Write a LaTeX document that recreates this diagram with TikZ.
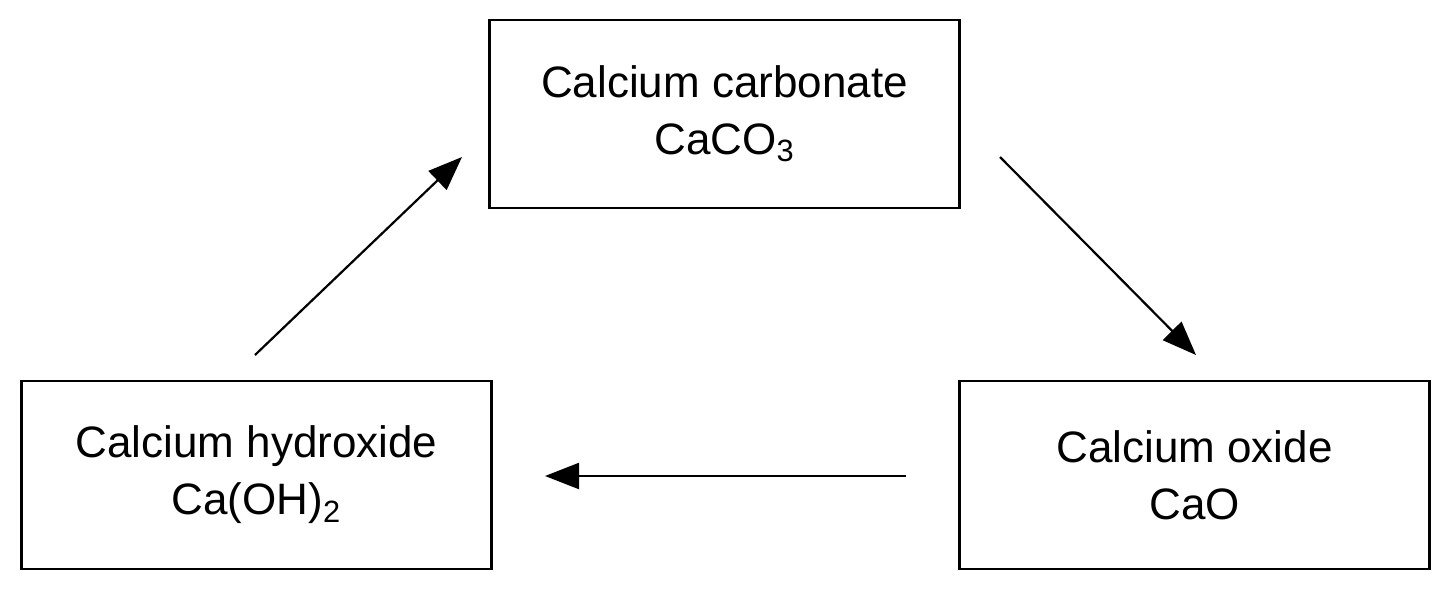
\documentclass[tikz,border=0pt]{standalone}
\usepackage{fontspec}
\setmainfont{Liberation Sans}
\usetikzlibrary{arrows.meta}
\begin{document}
\begin{tikzpicture}[x=0.5pt,y=-0.5pt,
  box/.style={draw,line width=1.2pt,minimum width=235pt,minimum height=94pt,align=center,inner sep=0pt,font=\fontsize{22}{28.5}\selectfont},
  arr/.style={line width=1.1pt,-{Triangle[length=17pt,width=13pt]}}]
\useasboundingbox (0,0) rectangle (1452,590);
\node[box] (top) at (724.5,114) {Calcium carbonate\\CaCO\textsubscript{3}};
\node[box] (left) at (256.5,475) {Calcium hydroxide\\Ca(OH)\textsubscript{2}};
\node[box] (right) at (1194.5,475) {Calcium oxide\\CaO};
\coordinate (a1) at (255,355); \coordinate (a2) at (462,157);
\coordinate (b1) at (1000,157); \coordinate (b2) at (1196,355);
\coordinate (c1) at (906,476); \coordinate (c2) at (545,476);
\draw[arr] (a1) -- (a2);
\draw[arr] (b1) -- (b2);
\draw[arr] (c1) -- (c2);
\end{tikzpicture}
\end{document}
